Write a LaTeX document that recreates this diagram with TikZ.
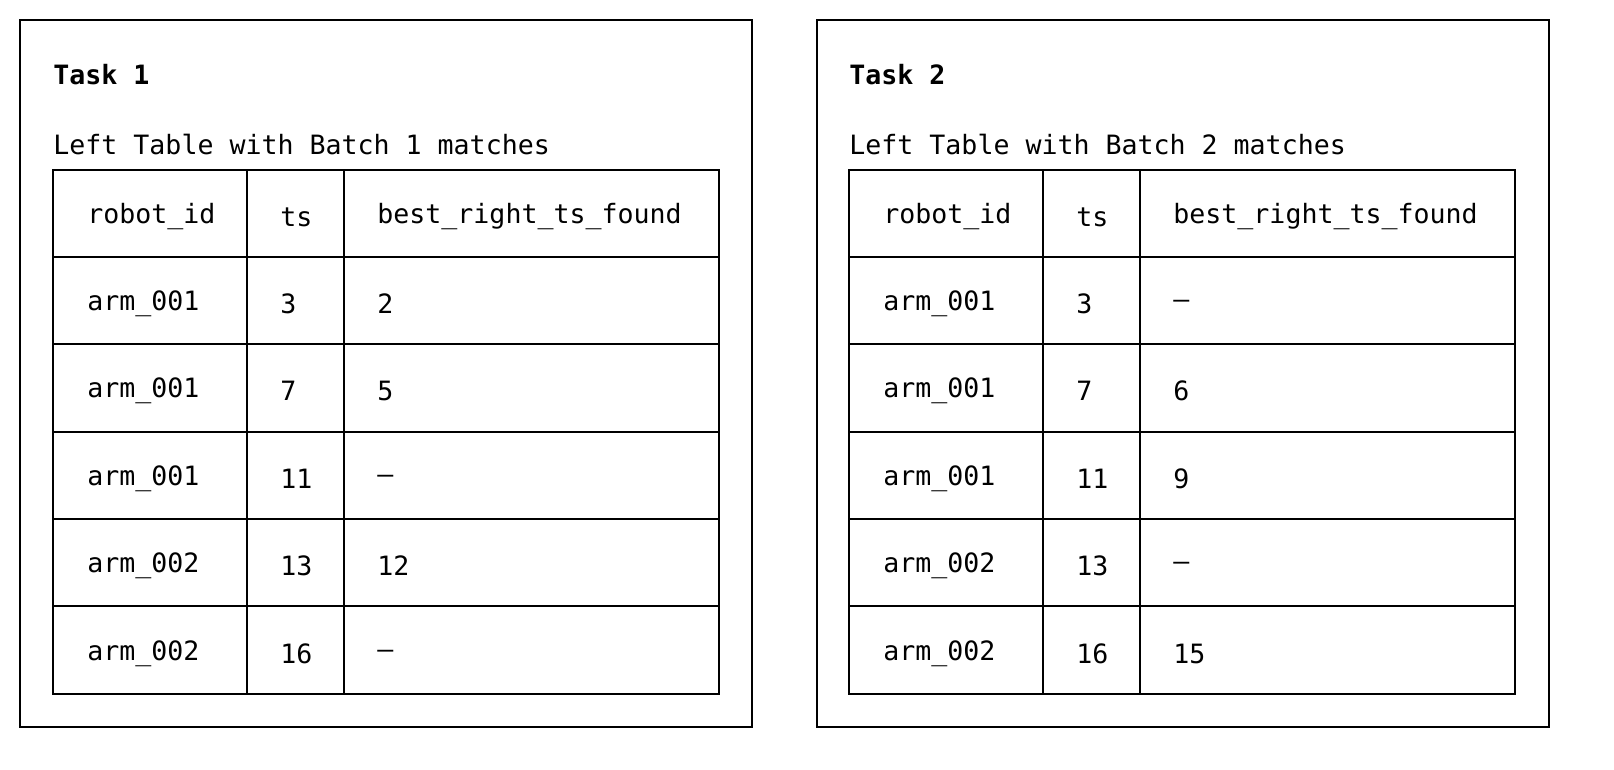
\documentclass[tikz,border=0pt]{standalone}
\usepackage{fontspec}
\setmonofont{DejaVu Sans Mono}
\begin{document}
\begin{tikzpicture}[x=0.5pt,y=-0.5pt,
	every node/.style={font=\ttfamily\fontsize{13.3}{15}\selectfont, inner sep=0pt},
	cell/.style={anchor=west},
	title/.style={anchor=west, font=\ttfamily\bfseries\fontsize{13.3}{15}\selectfont},
	frame/.style={draw=black, line width=0.8pt},
	]
	\useasboundingbox (0,0) rectangle (1614,770);
	% left panel
	\draw[frame] (20,20) rectangle (752,727);
	\node[title] (t1) at (53,75) {Task 1};
	\node[cell] (s1) at (53,145) {Left Table with Batch 1 matches};
	% right panel
	\draw[frame] (817,20) rectangle (1549,727);
	\node[title] (t2) at (849,75) {Task 2};
	\node[cell] (s2) at (849,145) {Left Table with Batch 2 matches};
	% tables
	\foreach \ox/\name in {0/a, 796/b}{
		\draw[frame] (53+\ox,170) rectangle (719+\ox,694);
		\draw[frame] (247+\ox,170) -- (247+\ox,694);
		\draw[frame] (344+\ox,170) -- (344+\ox,694);
		\foreach \ry in {257,344,432,519,606}
			\draw[frame] (53+\ox,\ry) -- (719+\ox,\ry);
		\node[cell] (\name h1) at (87+\ox,217) {robot\_id};
		\node[cell] (\name h2) at (280+\ox,217) {ts};
		\node[cell] (\name h3) at (377+\ox,217) {best\_right\_ts\_found};
	}
	\foreach \i/\ry/\id/\ts/\bl/\br in {1/304/arm\_001/3/2/–, 2/391/arm\_001/7/5/6, 3/479/arm\_001/11/–/9, 4/566/arm\_002/13/12/–, 5/654/arm\_002/16/–/15}{
		\node[cell] (ar\i c1) at (87,\ry) {\id};
		\node[cell] (ar\i c2) at (280,\ry) {\ts};
		\node[cell] (ar\i c3) at (377,\ry) {\bl};
		\node[cell] (br\i c1) at (883,\ry) {\id};
		\node[cell] (br\i c2) at (1076,\ry) {\ts};
		\node[cell] (br\i c3) at (1173,\ry) {\br};
	}
\end{tikzpicture}
\end{document}
